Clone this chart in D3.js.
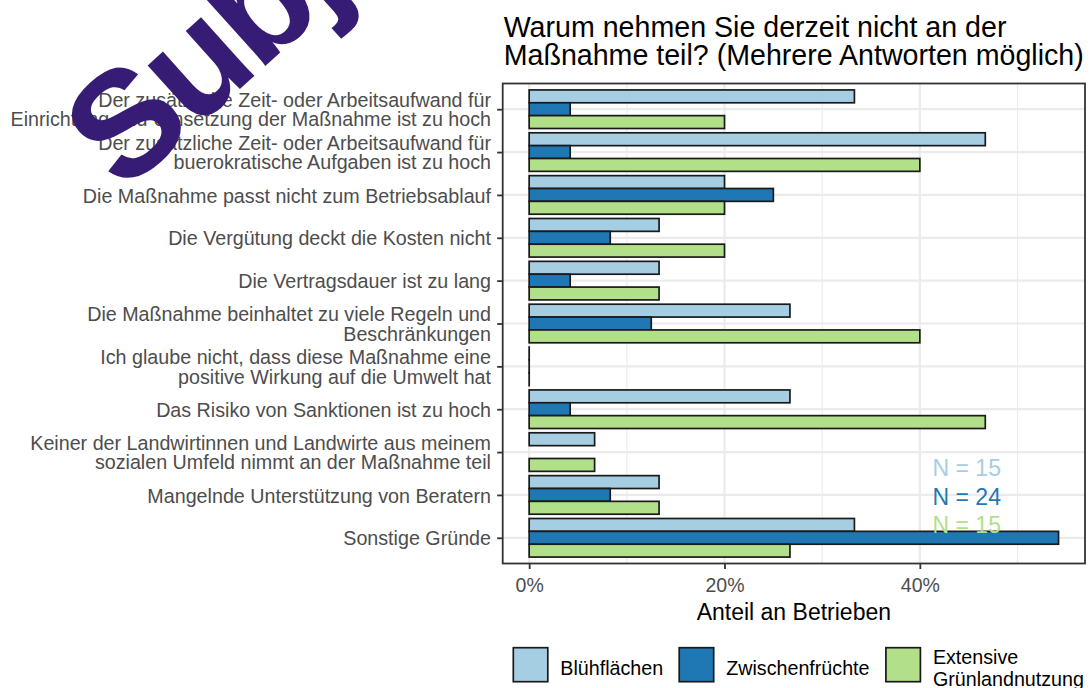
<!DOCTYPE html>
<html><head><meta charset="utf-8">
<script src="https://cdn.jsdelivr.net/npm/d3@7"></script>
<style>
html,body{margin:0;padding:0;background:#fff;}
svg{display:block;font-family:"Liberation Sans",Arial,sans-serif;}
</style></head>
<body>
<svg id="chart" width="1092" height="688"></svg>
<script>
// ---- data ----
const categories = [
  "Der zusätzliche Zeit- oder Arbeitsaufwand für\nEinrichtung und Umsetzung der Maßnahme ist zu hoch",
  "Der zusätzliche Zeit- oder Arbeitsaufwand für\nbuerokratische Aufgaben ist zu hoch",
  "Die Maßnahme passt nicht zum Betriebsablauf",
  "Die Vergütung deckt die Kosten nicht",
  "Die Vertragsdauer ist zu lang",
  "Die Maßnahme beinhaltet zu viele Regeln und\nBeschränkungen",
  "Ich glaube nicht, dass diese Maßnahme eine\npositive Wirkung auf die Umwelt hat",
  "Das Risiko von Sanktionen ist zu hoch",
  "Keiner der Landwirtinnen und Landwirte aus meinem\nsozialen Umfeld nimmt an der Maßnahme teil",
  "Mangelnde Unterstützung von Beratern",
  "Sonstige Gründe"
];
const seriesNames = ["Blühflächen", "Zwischenfrüchte", "Extensive\nGrünlandnutzung"];
const bluehflaechen    = [33.3, 46.7, 20.0, 13.3, 13.3, 26.7, 0, 26.7, 6.7, 13.3, 33.3];
const zwischenfruechte = [4.2, 4.2, 25.0, 8.3, 4.2, 12.5, 0, 4.2, null, 8.3, 54.2];
const extensiv         = [20.0, 40.0, 20.0, 20.0, 13.3, 40.0, 0, 46.7, 6.7, 13.3, 26.7];
const nLabels = ["N = 15", "N = 24", "N = 15"];
const xTicks = [0, 20, 40];
const xMinor = [10, 30, 50];
const titleLines = ["Warum nehmen Sie derzeit nicht an der", "Maßnahme teil? (Mehrere Antworten möglich)"];
const xTitle = "Anteil an Betrieben";
const watermark = "Subject";

// ---- layout ----
const colors = ["#A6CEE3", "#1F78B4", "#B2DF8A"];
const P = {left: 502.7, right: 1085, top: 83.5, bottom: 563.5};
const seriesVals = [bluehflaechen, zwischenfruechte, extensiv];
const rows = [];
categories.forEach((c, i) => seriesVals.forEach((s, j) => {
  if (s[i] !== null) rows.push({cat: c, ser: j, v: s[i]});
}));

const svg = d3.select("#chart");
const maxV = d3.max(seriesVals.flat().filter(v => v !== null));
const ex = maxV * 0.05;
const x = d3.scaleLinear().domain([-ex, maxV + ex]).range([P.left, P.right]);
const y = d3.scalePoint().domain(categories).range([P.top, P.bottom]).padding(0.6);
const step = y.step();
const yInner = d3.scaleBand().domain([0, 1, 2]).range([-0.45 * step, 0.45 * step]).padding(0);

// grid
const g = svg.append("g");
g.selectAll("line.minor").data(xMinor).join("line")
  .attr("x1", d => x(d)).attr("x2", d => x(d)).attr("y1", P.top).attr("y2", P.bottom)
  .attr("stroke", "#EBEBEB").attr("stroke-width", 1.1);
g.selectAll("line.majx").data(xTicks).join("line")
  .attr("x1", d => x(d)).attr("x2", d => x(d)).attr("y1", P.top).attr("y2", P.bottom)
  .attr("stroke", "#EBEBEB").attr("stroke-width", 2.2);
g.selectAll("line.majy").data(categories).join("line")
  .attr("x1", P.left).attr("x2", P.right).attr("y1", d => y(d)).attr("y2", d => y(d))
  .attr("stroke", "#EBEBEB").attr("stroke-width", 2.2);

// bars
svg.append("g").selectAll("rect").data(rows).join("rect")
  .attr("x", x(0))
  .attr("width", d => Math.max(x(d.v) - x(0), 0.01))
  .attr("y", d => y(d.cat) + yInner(d.ser))
  .attr("height", yInner.bandwidth())
  .attr("fill", d => colors[d.ser])
  .attr("stroke", "#1a1a1a").attr("stroke-width", 1.7);

// N labels
svg.append("g").selectAll("text").data(nLabels).join("text")
  .attr("x", x(44.8))
  .attr("y", (d, i) => y(categories[8]) + step * (0.38 + 0.665 * i))
  .attr("dy", "0.35em")
  .attr("text-anchor", "middle")
  .attr("fill", (d, i) => colors[i])
  .style("font-size", "23px")
  .text(d => d);

// panel border
svg.append("rect").attr("x", P.left).attr("y", P.top)
  .attr("width", P.right - P.left).attr("height", P.bottom - P.top)
  .attr("fill", "none").attr("stroke", "#333333").attr("stroke-width", 1.8);

// x axis
const xa = svg.append("g").attr("transform", `translate(0,${P.bottom})`)
  .call(d3.axisBottom(x).tickValues(xTicks).tickFormat(d => d + "%").tickSize(5.5).tickPadding(9));
xa.select(".domain").remove();
xa.selectAll(".tick line").attr("stroke", "#333333").attr("stroke-width", 1.8);
xa.selectAll(".tick text").attr("fill", "#4D4D4D").style("font-size", "19.5px").attr("font-family", null);

// y axis
const ya = svg.append("g").attr("transform", `translate(${P.left},0)`)
  .call(d3.axisLeft(y).tickSize(5.5).tickPadding(6));
ya.select(".domain").remove();
ya.selectAll(".tick line").attr("stroke", "#333333").attr("stroke-width", 1.8);
ya.selectAll(".tick text").each(function(d) {
  const t = d3.select(this);
  const lines = d.split("\n");
  t.text(null).attr("fill", "#4D4D4D").style("font-size", "19.7px").attr("font-family", null)
    .attr("dy", null).attr("x", -11.7);
  const lh = 19.3;
  lines.forEach((ln, k) => {
    t.append("tspan").attr("x", -11.7)
      .attr("y", (k - (lines.length - 1) / 2) * lh)
      .attr("dy", "0.36em").text(ln);
  });
});

// x title
svg.append("text").attr("x", (P.left + P.right) / 2).attr("y", 620)
  .attr("text-anchor", "middle").style("font-size", "23px").attr("fill", "#000")
  .text(xTitle);

// title
svg.append("g").selectAll("text").data(titleLines).join("text")
  .attr("x", P.left + 1).attr("y", (d, i) => 36.5 + i * 28)
  .style("font-size", "28.6px").attr("fill", "#000").text(d => d);

// legend
const legX = [513.3, 679.2, 885.9];
const leg = svg.append("g");
seriesNames.forEach((name, i) => {
  leg.append("rect").attr("x", legX[i]).attr("y", 647.7).attr("width", 34.5).attr("height", 34)
    .attr("fill", colors[i]).attr("stroke", "#1a1a1a").attr("stroke-width", 1.7);
  const lines = name.split("\n");
  const t = leg.append("text").style("font-size", "19.7px").attr("fill", "#000");
  lines.forEach((ln, k) => {
    t.append("tspan").attr("x", legX[i] + 34.5 + 12.5)
      .attr("y", 675 + (k - (lines.length - 1) / 2) * 21.5).text(ln);
  });
});

// watermark
svg.append("text").attr("transform", "translate(123,194) rotate(-42)")
  .style("font-size", "150px").style("font-weight", "bold").style("letter-spacing", "-5px")
  .attr("fill", "#361C74")
  .text(watermark);
</script>
</body></html>
